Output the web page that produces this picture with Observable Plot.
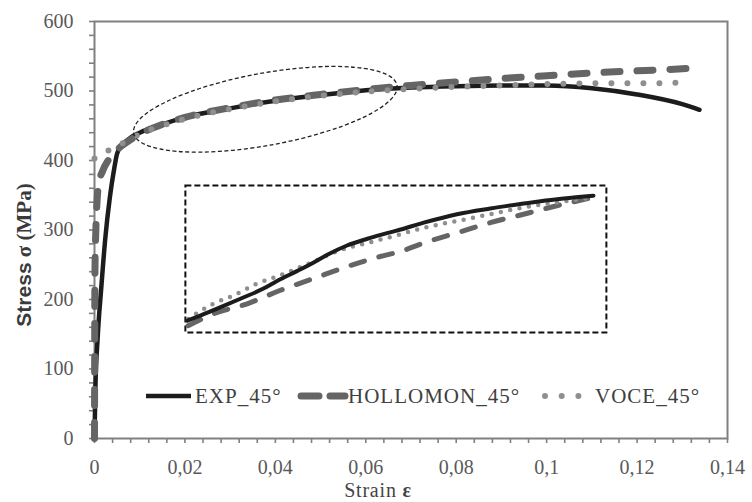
<!DOCTYPE html>
<html><head><meta charset="utf-8">
<script src="https://cdn.jsdelivr.net/npm/d3@7"></script>
<script src="https://cdn.jsdelivr.net/npm/@observablehq/plot@0.6"></script>
<style>
html,body{margin:0;padding:0;background:#fff;}
#chart{position:relative;width:752px;height:502px;}
</style></head><body><div id="chart"></div>
<script>
// ---- main curves (strain, stress MPa) ----
const strainExp = [0, 0.0002, 0.0007, 0.0015, 0.0024, 0.0034, 0.0043, 0.005, 0.0061, 0.008, 0.01, 0.015, 0.02, 0.03, 0.04, 0.05, 0.06, 0.07, 0.08, 0.09, 0.1, 0.11, 0.12, 0.13, 0.1338];
const stressExp = [0, 73, 145, 217, 289, 347, 386, 410, 422, 433, 440, 452, 462, 475, 486, 494, 501, 505, 507, 508, 508, 504, 495, 481, 473];
const strainHol = [0, 0.0001, 0.0003, 0.0006, 0.001, 0.0018, 0.003, 0.0045, 0.006, 0.008, 0.01, 0.015, 0.02, 0.03, 0.04, 0.05, 0.06, 0.07, 0.08, 0.09, 0.1, 0.11, 0.12, 0.13, 0.1345];
const stressHol = [0, 240, 300, 345, 368, 385, 400, 412, 421, 430, 438, 452, 462, 476, 487, 495, 502, 508, 513, 518, 522, 526, 529, 532, 534];
const strainVoce = [0, 0.001, 0.003, 0.006, 0.008, 0.01, 0.015, 0.02, 0.03, 0.04, 0.05, 0.06, 0.07, 0.08, 0.09, 0.1, 0.11, 0.12, 0.13];
const stressVoce = [403, 407, 414, 424, 431, 438, 450, 460, 474, 485, 493, 499, 503, 506, 508, 510, 511, 511, 512];

// ---- inset (magnified view of the ellipse region) ----
const insetStrainExp = [0.0083, 0.0102, 0.0132, 0.0161, 0.0195, 0.0215, 0.0245, 0.0269, 0.0289, 0.0318, 0.0348, 0.0377, 0.0397, 0.0431, 0.048, 0.0529, 0.0578, 0.0603, 0.0637, 0.0681];
const insetStressExp = [432, 435, 440, 445, 451, 455.5, 461.5, 466.5, 471, 476.5, 480.5, 483.8, 486, 490, 495, 498.4, 501.3, 502.7, 504.3, 506];
const insetStrainHol = [0.0084, 0.0121, 0.0171, 0.022, 0.0269, 0.0318, 0.0367, 0.0397, 0.0431, 0.048, 0.0529, 0.0578, 0.0627, 0.0681];
const insetStressHol = [429, 436, 442, 450, 457, 464, 470, 473, 478, 484, 490, 495, 500, 505];
const insetStrainVoce = [0.0084, 0.0121, 0.0151, 0.0186, 0.022, 0.0269, 0.0303, 0.0348, 0.0386, 0.0431, 0.048, 0.0529, 0.0578, 0.0627, 0.0681];
const insetStressVoce = [433, 442, 447, 454, 459, 467, 473, 478, 482, 487, 491, 495, 499, 502, 505];
const insetDomainX = [0.008, 0.070];
const insetDomainY = [425, 512];
const insetBoxStrain = [0.0201, 0.1132];
const insetBoxStress = [152, 364];

// ---- ellipse annotation (data units) ----
const ellipseCenter = [0.0379, 473];
const ellipseHalfStrain = 0.0296;
const ellipseHalfStress = 52;
const ellipseAngle = -10.3;

// ---- ticks & labels ----
const xTicks = [0, 0.02, 0.04, 0.06, 0.08, 0.1, 0.12, 0.14];
const xMinorTicks = d3.range(0, 36).map(i => +(i * 0.004).toFixed(3));
const yTicks = [0, 100, 200, 300, 400, 500, 600];
const yMinorTicks = d3.range(0, 31).map(i => i * 20);
const seriesNames = ["EXP_45°", "HOLLOMON_45°", "VOCE_45°"];
const xLabel = "Strain ";
const xLabelSym = "ε";
const yLabelA = "Stress";
const yLabelB = " σ (MPa)";

const rows = (xs, ys) => xs.map((x, i) => ({x, y: ys[i]}));
const AX = "#808080", LBL = "#595959";
const C_EXP = "#1c1c1c", C_HOL = "#656565", C_VOCE = "#8f8f8f";
const fmtX = d => String(+d.toFixed(2)).replace(".", ",");

const main = Plot.plot({
  width: 752, height: 502,
  marginLeft: 94, marginRight: 25, marginTop: 21, marginBottom: 64,
  x: {domain: [0, 0.14]},
  y: {domain: [0, 600]},
  style: {fontFamily: "'Liberation Serif', serif", background: "white", overflow: "visible"},
  marks: [
    Plot.axisY(yMinorTicks, {tickSize: 5, stroke: AX, strokeWidth: 1.6, tickFormat: () => "", label: null}),
    Plot.axisY(yTicks, {tickSize: 0, tickPadding: 21, fill: LBL, fontSize: 20, tickFormat: d => String(d), label: null}),
    Plot.axisX(xMinorTicks, {tickSize: 5, stroke: AX, strokeWidth: 1.6, tickFormat: () => "", label: null}),
    Plot.axisX(xTicks, {tickSize: 0, tickPadding: 21, fill: LBL, fontSize: 20, tickFormat: fmtX, label: null}),
    Plot.frame({stroke: AX, strokeWidth: 2}),
    Plot.line(rows(strainExp, stressExp), {x: "x", y: "y", stroke: C_EXP, strokeWidth: 4.5, curve: "monotone-x"}),
    Plot.line(rows(strainHol, stressHol), {x: "x", y: "y", stroke: C_HOL, strokeWidth: 7, strokeDasharray: "16,17", strokeLinecap: "round", curve: "monotone-x"}),
    Plot.line(rows(strainVoce, stressVoce), {x: "x", y: "y", stroke: C_VOCE, strokeWidth: 6, strokeDasharray: "0,16", strokeLinecap: "round", curve: "monotone-x"})
  ]
});

const sx = main.scale("x"), sy = main.scale("y");
const svg = d3.select(main);

// ellipse
const ecx = sx.apply(ellipseCenter[0]), ecy = sy.apply(ellipseCenter[1]);
svg.append("ellipse")
  .attr("cx", ecx).attr("cy", ecy)
  .attr("rx", sx.apply(ellipseCenter[0] + ellipseHalfStrain) - ecx)
  .attr("ry", sy.apply(ellipseCenter[1] - ellipseHalfStress) - ecy)
  .attr("transform", `rotate(${ellipseAngle} ${ecx} ${ecy})`)
  .attr("fill", "none").attr("stroke", "#222").attr("stroke-width", 1.3).attr("stroke-dasharray", "4,2.5");

// inset
const bx0 = sx.apply(insetBoxStrain[0]), bx1 = sx.apply(insetBoxStrain[1]);
const by0 = sy.apply(insetBoxStress[1]), by1 = sy.apply(insetBoxStress[0]);
const iw = Math.round(bx1 - bx0), ih = Math.round(by1 - by0);
const inset = Plot.plot({
  width: iw, height: ih,
  margin: 0,
  x: {domain: insetDomainX, axis: null},
  y: {domain: insetDomainY, axis: null},
  style: {background: "transparent", overflow: "visible"},
  marks: [
    Plot.frame({stroke: "#111", strokeWidth: 2, strokeDasharray: "6,3"}),
    Plot.line(rows(insetStrainHol, insetStressHol), {x: "x", y: "y", stroke: C_HOL, strokeWidth: 5, strokeDasharray: "14,15", strokeLinecap: "round", curve: "monotone-x"}),
    Plot.line(rows(insetStrainVoce, insetStressVoce), {x: "x", y: "y", stroke: C_VOCE, strokeWidth: 4.5, strokeDasharray: "0,9.5", strokeLinecap: "round", curve: "monotone-x"}),
    Plot.line(rows(insetStrainExp, insetStressExp), {x: "x", y: "y", stroke: C_EXP, strokeWidth: 4, curve: "monotone-x"})
  ]
});
d3.select(inset)
  .attr("x", bx0).attr("y", by0).attr("width", iw).attr("height", ih)
  .style("width", iw + "px").style("height", ih + "px").style("max-width", "none")
  .style("overflow", "visible");
main.appendChild(inset);

// axis titles
const yt = svg.append("text")
  .attr("transform", "translate(31,255) rotate(-90)")
  .attr("text-anchor", "middle").attr("fill", "#3a3a3a").attr("font-weight", "bold");
yt.append("tspan").attr("font-family", "'Liberation Sans', Arial, sans-serif").attr("font-size", 21).text(yLabelA);
yt.append("tspan").attr("font-family", "'Liberation Serif', serif").attr("font-size", 21).text(yLabelB);

const xt = svg.append("text")
  .attr("x", 378).attr("y", 497).attr("text-anchor", "middle")
  .attr("fill", "#444").attr("font-family", "'Liberation Serif', serif").attr("font-size", 20).attr("letter-spacing", 0.8);
xt.append("tspan").text(xLabel);
xt.append("tspan").attr("font-weight", "bold").text(xLabelSym);

// legend
const lg = svg.append("g").attr("font-family", "'Liberation Serif', serif").attr("font-size", 21)
  .attr("fill", "#404040").attr("letter-spacing", 1).attr("text-anchor", "start");
const ly = 396;
lg.append("line").attr("x1", 146).attr("x2", 191).attr("y1", ly).attr("y2", ly).attr("stroke", C_EXP).attr("stroke-width", 4.5);
lg.append("text").attr("x", 195).attr("y", ly + 7).text(seriesNames[0]);
lg.append("line").attr("x1", 301).attr("x2", 345).attr("y1", ly).attr("y2", ly).attr("stroke", C_HOL).attr("stroke-width", 7).attr("stroke-linecap", "round").attr("stroke-dasharray", "18,11");
lg.append("text").attr("x", 348).attr("y", ly + 7).text(seriesNames[1]);
lg.append("line").attr("x1", 545).attr("x2", 579).attr("y1", ly).attr("y2", ly).attr("stroke", C_VOCE).attr("stroke-width", 6).attr("stroke-linecap", "round").attr("stroke-dasharray", "0,16.7");
lg.append("text").attr("x", 595).attr("y", ly + 7).text(seriesNames[2]);

document.getElementById("chart").appendChild(main);
</script>
</body></html>
